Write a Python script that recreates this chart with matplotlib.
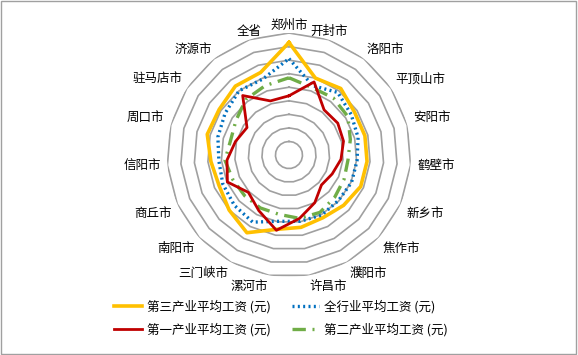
import numpy as np
import matplotlib.pyplot as plt
from matplotlib.patches import Rectangle

plt.rcParams['font.family'] = ['Noto Sans CJK SC', 'DejaVu Sans']

# categories, clockwise from the top
cities = ['郑州市', '开封市', '洛阳市', '平顶山市', '安阳市', '鹤壁市', '新乡市', '焦作市',
          '濮阳市', '许昌市', '漯河市', '三门峡市', '南阳市', '商丘市', '信阳市', '周口市',
          '驻马店市', '济源市', '全省']

# average wages (yuan)
tertiary = [83000, 60000, 62200, 57800, 57800, 57800, 57800, 54800, 52600, 54100,
            55600, 65200, 60000, 56300, 57800, 62200, 61500, 64400, 64400]
all_ind = [71100, 54100, 58500, 54800, 52600, 50400, 50400, 49600, 50400, 49600,
           49600, 56300, 54800, 53300, 51900, 54100, 56300, 60000, 59300]
primary = [43700, 57000, 42200, 43000, 41500, 38500, 34800, 32600, 40000, 47400,
           56300, 46700, 40700, 49600, 45900, 40700, 37000, 55600, 42200]
secondary = [57000, 52600, 53300, 51900, 46700, 43700, 44400, 45900, 48100, 47400,
             44400, 44400, 44400, 45200, 47400, 44400, 46700, 51900, 54100]

rings = np.arange(10000, 90001, 10000)

n = len(cities)
theta = np.linspace(0, 2 * np.pi, n, endpoint=False)
tc = np.append(theta, theta[0])

def closed(v):
    return np.append(v, v[0])

fig = plt.figure(figsize=(5.78, 3.55), dpi=100)
ax = fig.add_axes([0.2889, 0.2197, 0.4221, 0.6873], polar=True)
ax.set_theta_zero_location('N')
ax.set_theta_direction(-1)

# polygon gridlines
for r in rings:
    ax.plot(tc, [r] * (n + 1), color='#a0a0a0', lw=1.2, zorder=1)

l3, = ax.plot(tc, closed(tertiary), color='#ffc000', lw=2.6, zorder=3,
              label='第三产业平均工资 (元)')
la, = ax.plot(tc, closed(all_ind), color='#0070c0', lw=2.4, zorder=4,
              linestyle=(0, (0.6, 1.0)), label='全行业平均工资 (元)')
l1, = ax.plot(tc, closed(primary), color='#c00000', lw=2.0, zorder=5,
              label='第一产业平均工资 (元)')
l2, = ax.plot(tc, closed(secondary), color='#70ad47', lw=2.4, zorder=4,
              linestyle=(0, (4, 2, 0.6, 2)), label='第二产业平均工资 (元)')

ax.set_ylim(0, 90000)
ax.set_xticks([])
ax.set_yticks([])
ax.grid(False)
ax.spines['polar'].set_visible(False)

# category labels around the outside
for t, name in zip(theta, cities):
    s, c = np.sin(t), np.cos(t)
    lim = 0.35 if c > 0 else 0.15
    ha = 'left' if s > lim else ('right' if s < -lim else 'center')
    va = 'bottom' if c > 0.15 else ('top' if c < -0.15 else 'center')
    r_lab = 95000 - (3800 if c > 0 else 1800) * c ** 2
    ax.text(t, r_lab, name, ha=ha, va=va, fontsize=9, color='#000000')

fig.legend(handles=[l3, l1, la, l2], ncol=2, loc='lower center',
           bbox_to_anchor=(0.486, 0.02), frameon=False, fontsize=9,
           handlelength=2.2, columnspacing=1.7, handletextpad=0.4,
           labelspacing=0.75)

fig.patches.append(Rectangle((0.002, 0.003), 0.995, 0.993, transform=fig.transFigure,
                             fill=False, edgecolor='#a0a0a0', lw=1))

fig.savefig('out.png', dpi=100)
